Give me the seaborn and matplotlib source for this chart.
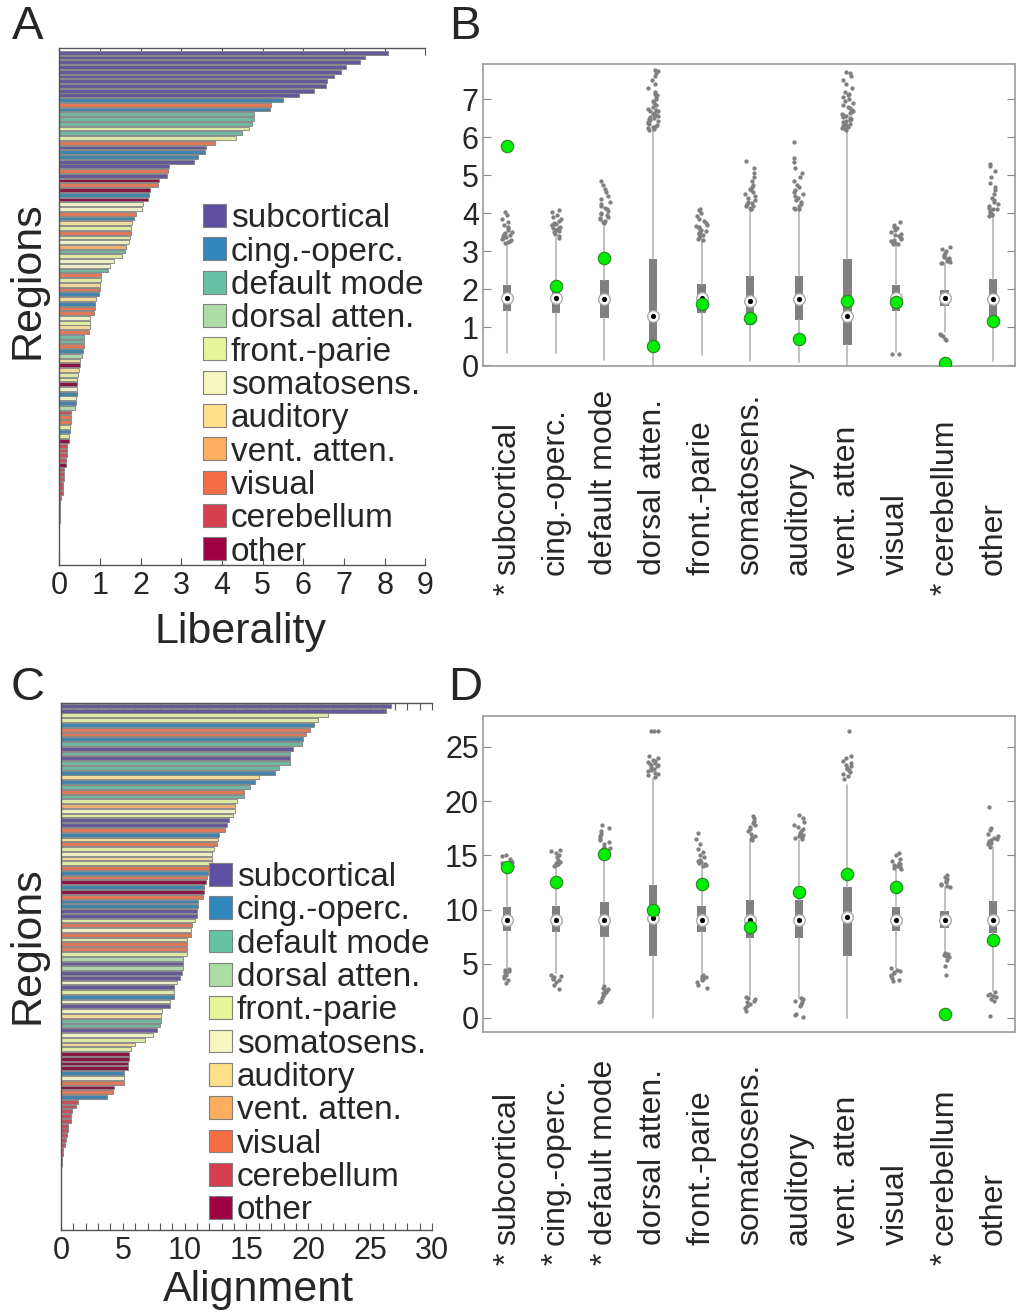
import matplotlib
matplotlib.use("Agg")
import matplotlib.pyplot as plt
import matplotlib.transforms as mtransforms
from matplotlib.patches import Patch
from matplotlib.ticker import MultipleLocator
import pandas as pd
import seaborn as sns

# network names / colours (legend order)
networks = ["subcortical", "cing.-operc.", "default mode", "dorsal atten.", "front.-parie",
            "somatosens.", "auditory", "vent. atten.", "visual", "cerebellum", "other"]
codes = ["sub", "cin", "def", "dor", "fro", "som", "aud", "ven", "vis", "cer", "oth"]
net_colors = ["#5e4fa2", "#3288bd", "#66c2a5", "#abdda4", "#e6f598", "#f6f6c0",
              "#fee08b", "#fdae61", "#f46d43", "#d53e4f", "#9e0142"]

# panel A: liberality per region (sorted)
lib_net = ["sub"] * 10 + ["cin", "vis", "cin", "def", "def", "def", "fro", "def", "fro", "vis",
           "sub", "cin", "cin", "sub", "sub", "vis", "sub", "oth", "vis", "oth",
           "cin", "oth", "som", "som", "vis", "cin", "aud", "fro", "vis", "fro",
           "som", "ven", "def", "fro", "som", "som", "def", "vis", "fro", "aud",
           "vis", "cin", "aud", "cin", "vis", "vis", "som", "fro", "aud", "vis",
           "def", "def", "vis", "cin", "dor", "aud", "oth", "aud", "fro", "fro",
           "oth", "som", "cin", "som", "cin", "dor", "cer", "vis", "vis", "fro",
           "cin", "fro", "oth", "cer", "cer", "cer", "cer", "oth", "cer", "cer",
           "cer", "cer", "cer", "cer", "cer", "cer", "cer", "cer", "cer", "cer"]
lib_val = [8.08, 7.51, 7.40, 7.05, 6.93, 6.75, 6.58, 6.55, 6.27, 5.90,
           5.50, 5.21, 5.17, 4.80, 4.79, 4.74, 4.66, 4.49, 4.34, 3.84,
           3.61, 3.59, 3.41, 3.31, 2.70, 2.67, 2.66, 2.45, 2.44, 2.24,
           2.20, 2.18, 2.07, 2.03, 1.89, 1.83, 1.78, 1.76, 1.76, 1.74,
           1.72, 1.64, 1.61, 1.54, 1.36, 1.24, 1.21, 1.03, 1.03, 1.01,
           1.01, 0.99, 0.90, 0.89, 0.87, 0.85, 0.75, 0.75, 0.75, 0.74,
           0.61, 0.61, 0.60, 0.58, 0.57, 0.52, 0.52, 0.49, 0.46, 0.43,
           0.43, 0.43, 0.43, 0.41, 0.41, 0.40, 0.29, 0.28, 0.28, 0.27,
           0.27, 0.25, 0.23, 0.20, 0.20, 0.20, 0.18, 0.16, 0.13, 0.12,
           0.12, 0.10, 0.10, 0.10, 0.04, 0.03, 0.02, 0.02, 0.02, 0.02]

# panel C: alignment per region (sorted)
aln_net = ["sub", "sub", "fro", "fro", "cin", "vis", "vis", "cin", "def", "sub",
           "def", "sub", "def", "def", "cin", "aud", "cin", "def", "vis", "def",
           "fro", "ven", "som", "fro", "sub", "sub", "vis", "cin", "aud", "vis",
           "fro", "som", "aud", "fro", "vis", "cin", "vis", "oth", "cin", "oth",
           "vis", "cin", "cin", "sub", "sub", "fro", "vis", "som", "vis", "fro",
           "vis", "vis", "fro", "dor", "sub", "dor", "sub", "sub", "som", "sub",
           "fro", "cin", "som", "sub", "som", "aud", "def", "def", "sub", "som",
           "fro", "aud", "fro", "oth", "oth", "oth", "oth", "cin", "som", "vis",
           "oth", "vis", "cin"] + ["cer"] * 17
aln_val = [26.7, 26.3, 21.6, 20.8, 20.5, 20.1, 19.8, 19.6, 19.5, 18.8,
           18.5, 18.5, 18.5, 17.6, 17.3, 16.0, 15.7, 15.3, 14.8, 14.8,
           14.2, 14.1, 14.1, 13.9, 13.6, 13.4, 13.3, 12.8, 12.7, 12.6,
           12.4, 12.2, 12.2, 12.2, 12.0, 11.9, 11.8, 11.7, 11.6, 11.6,
           11.5, 11.1, 11.1, 11.0, 11.0, 10.8, 10.6, 10.5, 10.5, 10.2,
           10.2, 10.2, 10.2, 9.9, 9.9, 9.9, 9.8, 9.6, 9.4, 9.1,
           9.1, 9.1, 8.8, 8.8, 8.2, 8.1, 8.1, 8.0, 7.8, 7.4,
           6.8, 6.0, 5.7, 5.5, 5.5, 5.4, 5.4, 5.1, 5.1, 5.1,
           4.3, 4.2, 3.7, 1.4, 1.2, 0.86, 0.84, 0.78, 0.57, 0.54,
           0.51, 0.43, 0.30, 0.16, 0.14, 0.11, 0.05, 0.03, 0.02, 0.01]

# panels B / D: null distributions (box stats), outliers and observed values
box_names = ["subcortical", "cing.-operc.", "default mode", "dorsal atten.", "front.-parie",
             "somatosens.", "auditory", "vent. atten", "visual", "cerebellum", "other"]
b_star = [True, False, False, False, False, False, False, False, False, True, False]
d_star = [True, True, True, False, False, False, False, False, False, True, False]

b_q1 = [1.43, 1.38, 1.25, 0.50, 1.38, 1.05, 1.18, 0.53, 1.43, 1.55, 1.17]
b_med = [1.76, 1.76, 1.73, 1.30, 1.76, 1.69, 1.73, 1.30, 1.76, 1.76, 1.73]
b_q3 = [2.10, 2.10, 2.25, 2.80, 2.15, 2.35, 2.35, 2.80, 2.10, 1.97, 2.28]
b_lo = [0.33, 0.31, 0.13, 0.00, 0.27, 0.10, 0.08, 0.00, 0.35, 0.88, 0.10]
b_hi = [3.18, 3.35, 3.73, 6.18, 3.29, 4.08, 4.08, 6.18, 3.16, 2.66, 3.90]
b_obs = [5.78, 2.08, 2.83, 0.50, 1.60, 1.25, 0.69, 1.69, 1.66, 0.07, 1.17]
b_out = [
    [3.22, 3.25, 3.28, 3.3, 3.32, 3.35, 3.38, 3.4, 3.42, 3.45, 3.48, 3.5, 3.55, 3.6, 3.65, 3.7, 3.78, 3.85, 3.95, 4.02],
    [3.36, 3.4, 3.45, 3.5, 3.52, 3.55, 3.58, 3.6, 3.62, 3.65, 3.68, 3.7, 3.72, 3.75, 3.8, 3.85, 3.9, 3.95, 4.02, 4.08],
    [3.75, 3.78, 3.8, 3.85, 3.88, 3.9, 3.95, 3.98, 4.0, 4.05, 4.1, 4.15, 4.2, 4.25, 4.3, 4.38, 4.45, 4.55, 4.65, 4.75, 4.85],
    [6.2, 6.22, 6.25, 6.28, 6.3, 6.32, 6.35, 6.38, 6.4, 6.42, 6.45, 6.48, 6.5, 6.52, 6.55, 6.58, 6.6, 6.62, 6.65, 6.68,
     6.7, 6.72, 6.75, 6.8, 6.85, 6.9, 6.95, 7.0, 7.05, 7.1, 7.15, 7.2, 7.3, 7.4, 7.5, 7.6, 7.7, 7.75, 7.78],
    [3.3, 3.33, 3.36, 3.4, 3.42, 3.45, 3.48, 3.5, 3.53, 3.56, 3.6, 3.63, 3.66, 3.7, 3.75, 3.8, 3.86, 3.92, 4.0, 4.08, 4.12],
    [4.1, 4.12, 4.15, 4.18, 4.2, 4.24, 4.28, 4.3, 4.35, 4.4, 4.45, 4.5, 4.55, 4.6, 4.65, 4.7, 4.75, 4.85, 4.95, 5.05, 5.2, 5.38],
    [4.1, 4.12, 4.15, 4.2, 4.25, 4.3, 4.35, 4.4, 4.45, 4.5, 4.55, 4.6, 4.7, 4.75, 4.85, 4.95, 5.05, 5.2, 5.35, 5.45, 5.88],
    [6.2, 6.22, 6.25, 6.28, 6.3, 6.33, 6.35, 6.38, 6.4, 6.43, 6.45, 6.48, 6.5, 6.53, 6.55, 6.58, 6.6, 6.63, 6.66, 6.7,
     6.73, 6.76, 6.8, 6.85, 6.9, 6.95, 7.0, 7.05, 7.1, 7.15, 7.2, 7.3, 7.4, 7.5, 7.6, 7.7, 7.72],
    [3.18, 3.2, 3.22, 3.25, 3.28, 3.3, 3.33, 3.36, 3.4, 3.43, 3.46, 3.5, 3.55, 3.6, 3.65, 3.7, 3.76, 0.29, 0.29],
    [2.68, 2.7, 2.72, 2.75, 2.78, 2.8, 2.82, 2.85, 2.88, 2.9, 2.95, 3.0, 3.05, 3.1, 0.66, 0.7, 0.78, 0.8, 0.82],
    [3.92, 3.95, 3.98, 4.0, 4.05, 4.1, 4.12, 4.15, 4.2, 4.25, 4.3, 4.35, 4.4, 4.5, 4.6, 4.7, 4.8, 4.95, 5.1, 5.25, 5.3],
]

d_q1 = [8.0, 7.9, 7.5, 5.7, 7.9, 7.4, 7.4, 5.7, 8.0, 8.3, 7.8]
d_med = [9.05, 9.05, 9.05, 9.2, 9.05, 9.05, 9.0, 9.3, 9.05, 9.05, 9.05]
d_q3 = [10.2, 10.3, 10.7, 12.3, 10.3, 10.9, 10.9, 12.1, 10.2, 9.85, 10.8]
d_lo = [4.6, 4.1, 2.9, 0.0, 4.1, 2.0, 1.8, 0.0, 4.6, 6.1, 2.45]
d_hi = [13.5, 14.0, 15.5, 22.1, 14.0, 16.3, 16.4, 21.5, 13.6, 12.1, 15.8]
d_obs = [13.96, 12.5, 15.1, 10.0, 12.4, 8.4, 11.6, 13.3, 12.05, 0.37, 7.15]
d_out = [
    [13.6, 13.7, 13.8, 13.9, 14.0, 14.1, 14.2, 14.3, 14.4, 14.5, 14.7, 14.9, 15.0,
     4.5, 4.4, 4.3, 4.2, 4.1, 4.0, 3.9, 3.7, 3.5, 3.2],
    [14.0, 14.1, 14.2, 14.3, 14.4, 14.5, 14.6, 14.8, 15.0, 15.2, 15.4, 15.5,
     4.0, 3.9, 3.8, 3.7, 3.6, 3.5, 3.3, 3.0, 2.7],
    [15.5, 15.6, 15.7, 15.8, 16.0, 16.2, 16.4, 16.6, 16.8, 17.0, 17.2, 17.5, 17.8,
     2.9, 2.8, 2.7, 2.6, 2.5, 2.4, 2.3, 2.2, 2.0, 1.8, 1.6, 1.5],
    [22.2, 22.4, 22.5, 22.6, 22.8, 22.9, 23.0, 23.1, 23.2, 23.3, 23.3, 23.4, 23.5, 23.6, 23.7, 23.8, 24.0, 24.2,
     26.5, 26.5, 26.5],
    [14.0, 14.1, 14.2, 14.3, 14.4, 14.5, 14.6, 14.8, 15.0, 15.3, 15.6, 16.0, 16.5, 17.1,
     4.0, 3.9, 3.8, 3.7, 3.6, 3.5, 3.3, 3.0, 2.8],
    [16.4, 16.5, 16.6, 16.7, 16.8, 17.0, 17.2, 17.4, 17.6, 17.8, 18.0, 18.2, 18.4, 18.6,
     1.9, 1.8, 1.7, 1.6, 1.5, 1.3, 1.1, 0.9, 0.6],
    [16.5, 16.6, 16.7, 16.8, 16.9, 17.0, 17.1, 17.2, 17.4, 17.6, 17.8, 18.1, 18.4, 18.7,
     1.8, 1.7, 1.6, 1.5, 1.3, 1.1, 0.4, 0.3, 0.1],
    [22.0, 22.3, 22.5, 22.7, 22.9, 23.0, 23.1, 23.2, 23.3, 23.5, 23.7, 24.0, 24.2, 26.5],
    [13.7, 13.8, 13.9, 14.0, 14.1, 14.2, 14.3, 14.5, 14.7, 15.0, 15.2,
     4.6, 4.4, 4.3, 4.2, 4.1, 4.0, 3.9, 3.7, 3.5, 3.4],
    [12.1, 12.2, 12.3, 12.4, 12.5, 12.6, 12.8, 13.0, 13.2,
     6.0, 5.9, 5.8, 5.7, 5.6, 5.3, 4.8, 4.0],
    [15.8, 16.0, 16.1, 16.2, 16.3, 16.4, 16.5, 16.6, 16.8, 17.0, 17.3, 17.5, 19.5,
     2.4, 2.2, 2.1, 2.0, 1.9, 1.7, 1.6, 0.15],
]

sns.set_style("white")
plt.rcParams['font.family'] = ['Liberation Sans', 'DejaVu Sans']

code_to_name = dict(zip(codes, networks))
GRAY = "#808080"


def bar_panel(ax, vals, nets, xmax, major, minor, ylim):
    df = pd.DataFrame({"region": range(len(vals)), "value": vals,
                       "network": [code_to_name[c] for c in nets]})
    sns.barplot(data=df, x="value", y="region", hue="network", hue_order=networks,
                palette=net_colors, orient="h", dodge=False, width=0.8, errorbar=None,
                edgecolor=GRAY, linewidth=0.6, legend=False, ax=ax)
    ax.set_ylim(*ylim)
    ax.set_xlim(0, xmax)
    ax.set_yticks([])
    ax.set_xlabel("")
    ax.set_ylabel("")
    ax.xaxis.set_major_locator(MultipleLocator(major))
    ax.xaxis.set_minor_locator(MultipleLocator(minor))
    ax.tick_params(axis="x", which="both", direction="in", top=True, bottom=True,
                   length=5, width=0.8, color="#555555", labelsize=22, pad=4)
    ax.spines["right"].set_visible(False)
    for s in ["left", "top", "bottom"]:
        ax.spines[s].set_color("#555555")
        ax.spines[s].set_linewidth(1)
    handles = [Patch(facecolor=c, edgecolor=GRAY, linewidth=0.8) for c in net_colors]
    return handles


def box_panel(ax, q1, med, q3, lo, hi, obs, outs, names, stars, ylim, major, lab_y):
    pos = list(range(len(names)))
    stats = [dict(med=m, q1=a, q3=b, whislo=l, whishi=h, fliers=[])
             for a, m, b, l, h in zip(q1, med, q3, lo, hi)]
    ax.bxp(stats, positions=pos, widths=0.17, showfliers=False, showcaps=False,
           patch_artist=True, manage_ticks=False,
           boxprops=dict(facecolor=GRAY, edgecolor="none", linewidth=0),
           whiskerprops=dict(color="#b5b5b5", linewidth=1.2),
           medianprops=dict(linewidth=0))
    out_df = pd.DataFrame([(i, v) for i, vs in enumerate(outs) for v in vs],
                          columns=["pos", "value"])
    sns.stripplot(data=out_df, x="pos", y="value", native_scale=True, jitter=0.11,
                  color=GRAY, size=3.1, linewidth=0, ax=ax, zorder=3)
    sns.scatterplot(x=pos, y=med, s=70, color="white", edgecolor="#aaaaaa",
                    linewidth=1, ax=ax, zorder=4)
    sns.scatterplot(x=pos, y=med, s=14, color="black", linewidth=0, ax=ax, zorder=5)
    sns.scatterplot(x=pos, y=obs, s=80, color="#00ee00", edgecolor="#2f7f2f",
                    linewidth=0.8, ax=ax, zorder=6)
    ax.set_xlim(-0.5, 10.45)
    ax.set_ylim(*ylim)
    ax.set_xticks([])
    ax.set_xlabel("")
    ax.set_ylabel("")
    ax.yaxis.set_major_locator(MultipleLocator(major))
    ax.tick_params(axis="y", direction="in", left=True, right=True, length=6,
                   color="#888888", labelsize=22, pad=3)
    for s in ax.spines.values():
        s.set_visible(True)
        s.set_color("#999999")
        s.set_linewidth(1.2)
    trans = mtransforms.blended_transform_factory(ax.transData, ax.transAxes)
    for i, (nm, st) in enumerate(zip(names, stars)):
        ax.text(i, lab_y, nm, transform=trans, rotation=90, ha="center", va="bottom",
                fontsize=23, clip_on=False)
        if st:
            ax.text(i, lab_y - 0.025, "*", transform=trans, rotation=90, ha="center",
                    va="top", fontsize=23, clip_on=False)


fig = plt.figure(figsize=(10.2, 13.15), dpi=100)

legend_kw = dict(loc="upper left", bbox_transform=fig.transFigure, frameon=False,
                 fontsize=24, handlelength=0.68, handleheight=0.68, handletextpad=0.15,
                 labelspacing=0.07, borderpad=0, borderaxespad=0)

axA = fig.add_axes([0.058, 0.5703, 0.359, 0.3932])
h = bar_panel(axA, lib_val, lib_net, 9, 1, 1, (108.2, -1.0))
axA.legend(h, networks, bbox_to_anchor=(0.199, 0.8455), **legend_kw)

axC = fig.add_axes([0.0598, 0.0646, 0.3637, 0.4008])
h = bar_panel(axC, aln_val, aln_net, 30, 5, 1, (109.9, -0.6))
axC.legend(h, networks, bbox_to_anchor=(0.205, 0.3445), **legend_kw)

axB = fig.add_axes([0.4735, 0.7217, 0.5216, 0.2297])
box_panel(axB, b_q1, b_med, b_q3, b_lo, b_hi, b_obs, b_out, box_names, b_star,
          (-0.02, 7.93), 1, -0.692)

axD = fig.add_axes([0.4735, 0.2152, 0.5216, 0.2403])
box_panel(axD, d_q1, d_med, d_q3, d_lo, d_hi, d_obs, d_out, box_names, d_star,
          (-1.3, 27.85), 5, -0.674)

# axis titles and panel letters
fig.text(28 / 1020, 1 - 280 / 1315, "Regions", rotation=90, ha="center", va="center", fontsize=31)
fig.text(28 / 1020, 1 - 945 / 1315, "Regions", rotation=90, ha="center", va="center", fontsize=31)
fig.text(241 / 1020, 1 - 632 / 1315, "Liberality", ha="center", va="center", fontsize=31)
fig.text(258 / 1020, 1 - 1290 / 1315, "Alignment", ha="center", va="center", fontsize=31)
for letter, x, y in [("A", 28, 27), ("B", 465, 27), ("C", 28, 688), ("D", 465, 688)]:
    fig.text(x / 1020, 1 - y / 1315, letter, ha="center", va="center", fontsize=34)

fig.savefig("out.png", dpi=100)
